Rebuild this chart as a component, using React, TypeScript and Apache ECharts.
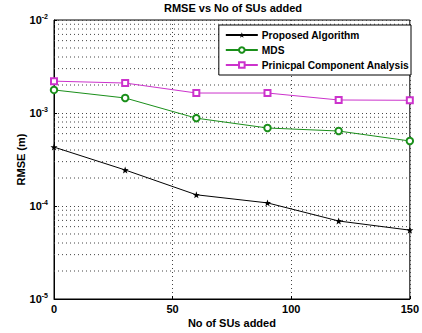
import React, { useEffect, useRef } from "react";
import * as echarts from "echarts";

const xValues = [0, 30, 60, 90, 120, 150];
const proposed = [4.3e-4, 2.44e-4, 1.32e-4, 1.08e-4, 6.9e-5, 5.5e-5];
const mds = [1.77e-3, 1.45e-3, 8.8e-4, 6.9e-4, 6.4e-4, 5.0e-4];
const pca = [2.2e-3, 2.1e-3, 1.64e-3, 1.64e-3, 1.38e-3, 1.37e-3];
const seriesNames = ["Proposed Algorithm", "MDS", "Prinicpal Component Analysis"];
const minorMultipliers = [2, 3, 4, 5, 6, 7, 8, 9];
const decades = [1e-5, 1e-4, 1e-3];
const xRange = [0, 150];

const STAR =
  "path://M0,-10 L2.35,-3.24 L9.51,-3.09 L3.8,1.24 L5.88,8.09 L0,4 L-5.88,8.09 L-3.8,1.24 L-9.51,-3.09 L-2.35,-3.24 Z";

const FONT = "Liberation Sans";
const GRID_LINE = { color: "#444", type: [1, 3], width: 1 };

export default function App() {
  const ref = useRef<HTMLDivElement>(null);
  useEffect(() => {
    if (!ref.current) return;
    const chart = echarts.init(ref.current, null, { renderer: "svg" });
    const minorSeries: any[] = [];
    decades.forEach((d) =>
      minorMultipliers.forEach((m) =>
        minorSeries.push({
          type: "line",
          name: "minor",
          data: [
            [xRange[0], d * m],
            [xRange[1], d * m],
          ],
          symbol: "none",
          silent: true,
          lineStyle: GRID_LINE,
          z: 1,
        })
      )
    );
    const mk = (arr: number[]) => arr.map((v, i) => [xValues[i], v]);
    chart.setOption({
      animation: false,
      backgroundColor: "#fff",
      title: {
        text: "RMSE vs No of SUs added",
        left: 233,
        top: 2,
        padding: 0,
        textAlign: "center",
        textStyle: { fontFamily: FONT, fontWeight: "bold", fontSize: 11, color: "#000" },
      },
      grid: {
        left: 54,
        right: 11,
        top: 20,
        bottom: 34,
        show: true,
        borderColor: "#000",
        borderWidth: 1,
        backgroundColor: "#fff",
      },
      legend: {
        orient: "vertical",
        right: 11,
        top: 25,
        backgroundColor: "#fff",
        borderColor: "#000",
        borderWidth: 1,
        borderRadius: 0,
        padding: [5, 2, 5, 6],
        itemGap: 5,
        itemWidth: 32,
        itemHeight: 7,
        data: seriesNames,
        textStyle: { fontFamily: FONT, fontWeight: "bold", fontSize: 10.2, color: "#000", padding: [0, 0, 0, -1] },
      },
      xAxis: {
        type: "value",
        min: xRange[0],
        max: xRange[1],
        interval: 50,
        name: "No of SUs added",
        nameLocation: "middle",
        nameGap: 18,
        nameMoveOverlap: false,
        nameTextStyle: { fontFamily: FONT, fontWeight: "bold", fontSize: 11, color: "#000" },
        axisLine: { onZero: false, lineStyle: { color: "#000" } },
        axisTick: { inside: true, length: 3, lineStyle: { color: "#000" } },
        axisLabel: { fontFamily: FONT, fontWeight: "bold", fontSize: 11, color: "#000", margin: 4 },
        splitLine: { show: true, lineStyle: GRID_LINE },
      },
      yAxis: {
        type: "log",
        logBase: 10,
        min: 1e-5,
        max: 1e-2,
        name: "RMSE (m)",
        nameLocation: "middle",
        nameGap: 28,
        nameMoveOverlap: false,
        nameTextStyle: { fontFamily: FONT, fontWeight: "bold", fontSize: 11, color: "#000" },
        axisLine: { lineStyle: { color: "#000" } },
        axisTick: { inside: true, length: 3, lineStyle: { color: "#000" } },
        axisLabel: {
          margin: 6,
          formatter: (v: number) => `{b|10}{s|${Math.round(Math.log10(v))}}`,
          rich: {
            b: { fontFamily: FONT, fontWeight: "bold", fontSize: 11, color: "#000" },
            s: { fontFamily: FONT, fontWeight: "bold", fontSize: 7, color: "#000", padding: [0, 0, 8, 0] },
          },
        },
        splitLine: { show: true, lineStyle: GRID_LINE },
      },
      series: [
        ...minorSeries,
        {
          name: seriesNames[0],
          type: "line",
          data: mk(proposed),
          symbol: STAR,
          symbolSize: 7,
          color: "#000",
          itemStyle: { color: "#000" },
          lineStyle: { color: "#000", width: 1 },
          z: 3,
        },
        {
          name: seriesNames[1],
          type: "line",
          data: mk(mds),
          symbol: "emptyCircle",
          symbolSize: 6.5,
          color: "#1a8f1a",
          itemStyle: { color: "#1a8f1a", borderWidth: 1 },
          lineStyle: { color: "#1a8f1a", width: 1 },
          z: 3,
        },
        {
          name: seriesNames[2],
          type: "line",
          data: mk(pca),
          symbol: "emptyRect",
          symbolSize: 6,
          color: "#cc33cc",
          itemStyle: { color: "#cc33cc", borderWidth: 1 },
          lineStyle: { color: "#cc33cc", width: 1 },
          z: 3,
        },
      ],
    });
    return () => chart.dispose();
  }, []);
  return <div ref={ref} style={{ width: 422, height: 333, position: "absolute", left: 0, top: 0 }} />;
}
